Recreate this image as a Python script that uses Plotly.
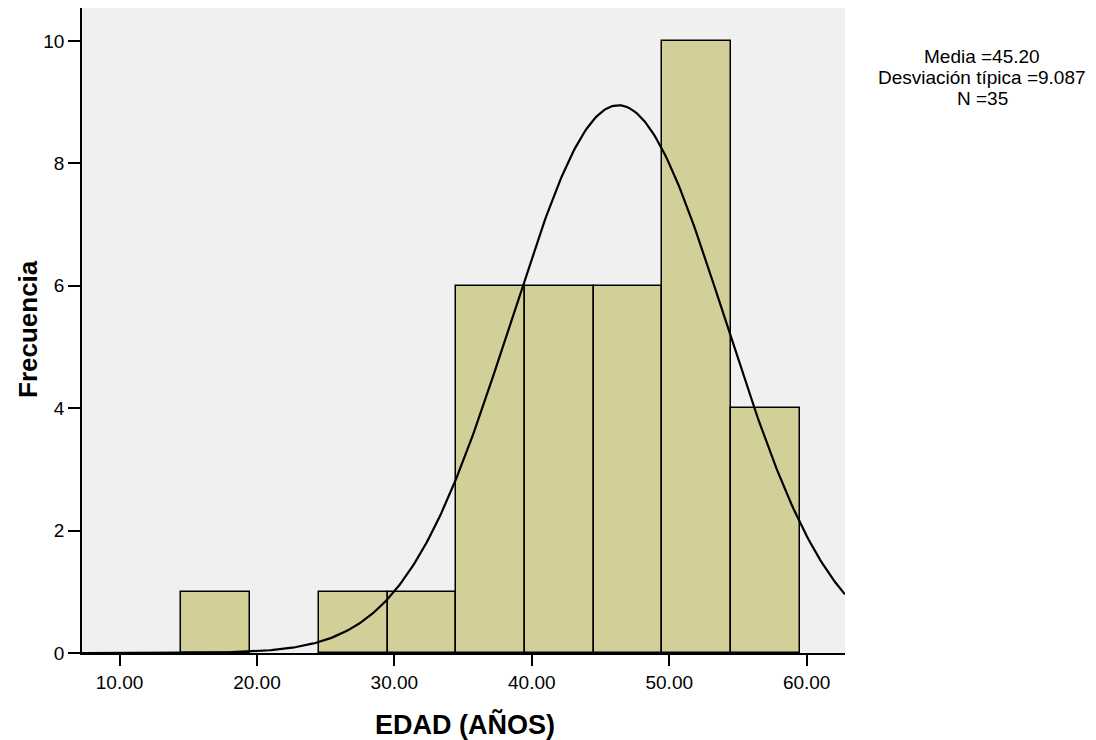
import numpy as np
import plotly.graph_objects as go

# Histogram data (bin centers, width 5)
bin_centers = [17, 27, 32, 37, 42, 47, 52, 57]
counts = [1, 1, 1, 6, 6, 6, 10, 4]
bin_width = 5

x_ticks = [10, 20, 30, 40, 50, 60]
x_tick_labels = ["10.00", "20.00", "30.00", "40.00", "50.00", "60.00"]
y_ticks = [0, 2, 4, 6, 8, 10]

# Stats shown in the legend text
media = 45.20
desv = 9.087
n_total = 35

# Normal curve as drawn in the picture (location/spread)
curve_mean = 46.3
curve_sd = 7.8

x_range = [7.27, 62.79]
y_range = [0, 10.54]

xs = np.linspace(x_range[0], x_range[1], 400)
ys = n_total * bin_width * np.exp(-0.5 * ((xs - curve_mean) / curve_sd) ** 2) / (curve_sd * np.sqrt(2 * np.pi))

fig = go.Figure()
fig.add_trace(go.Bar(
    x=bin_centers, y=counts, width=[bin_width] * len(bin_centers),
    marker=dict(color="#D3CF98", line=dict(color="black", width=1.5)),
    hoverinfo="x+y", showlegend=False,
))
fig.add_trace(go.Scatter(
    x=xs, y=ys, mode="lines", line=dict(color="black", width=2.2),
    showlegend=False, hoverinfo="skip",
))

FONT = "Liberation Sans, Arial, sans-serif"

# page has an 8px body margin: figure occupies 1088x732 starting at (8, 8)
PL, PR, PT, PB = 82, 845, 8, 653   # plot area in page pixels


def px(xp):
    return (xp - PL) / (PR - PL)


def py(yp):
    return (PB - yp) / (PB - PT)


fig.update_layout(
    width=1088, height=732,
    margin=dict(l=74, r=251, t=0, b=87, autoexpand=False),
    paper_bgcolor="white", plot_bgcolor="#F0F0F0",
    bargap=0,
    font=dict(family=FONT, color="black", size=19),
    xaxis=dict(
        range=x_range, tickvals=x_ticks, ticktext=x_tick_labels,
        ticks="outside", ticklen=11, tickwidth=1.5, tickcolor="black",
        showline=True, linecolor="black", linewidth=1.5,
        showgrid=False, zeroline=False,
        tickfont=dict(size=19, family=FONT),
    ),
    yaxis=dict(
        range=y_range, tickvals=y_ticks,
        ticks="outside", ticklen=12, tickwidth=1.5, tickcolor="black",
        showline=True, linecolor="black", linewidth=1.5,
        showgrid=False, zeroline=False,
        tickfont=dict(size=19, family=FONT),
    ),
)

# axis titles
fig.add_annotation(
    text="<b>EDAD (AÑOS)</b>", xref="paper", yref="paper",
    x=px(465), y=py(724), xanchor="center", yanchor="middle",
    showarrow=False, font=dict(size=27, family=FONT, color="black"),
)
fig.add_annotation(
    text="<b>Frecuencia</b>", xref="paper", yref="paper",
    x=px(28), y=py(329), xanchor="center", yanchor="middle", textangle=-90,
    showarrow=False, font=dict(size=26, family=FONT, color="black"),
)

lines = [f"Media ={media:.2f}", f"Desviación típica ={desv:.3f}", f"N ={n_total}"]
centers = [57, 78, 99]
for txt, yc in zip(lines, centers):
    fig.add_annotation(
        text=txt, xref="paper", yref="paper",
        x=px(982), y=py(yc),
        xanchor="center", yanchor="middle", showarrow=False,
        font=dict(size=19, family=FONT, color="black"),
    )

fig.write_html("out.html")
